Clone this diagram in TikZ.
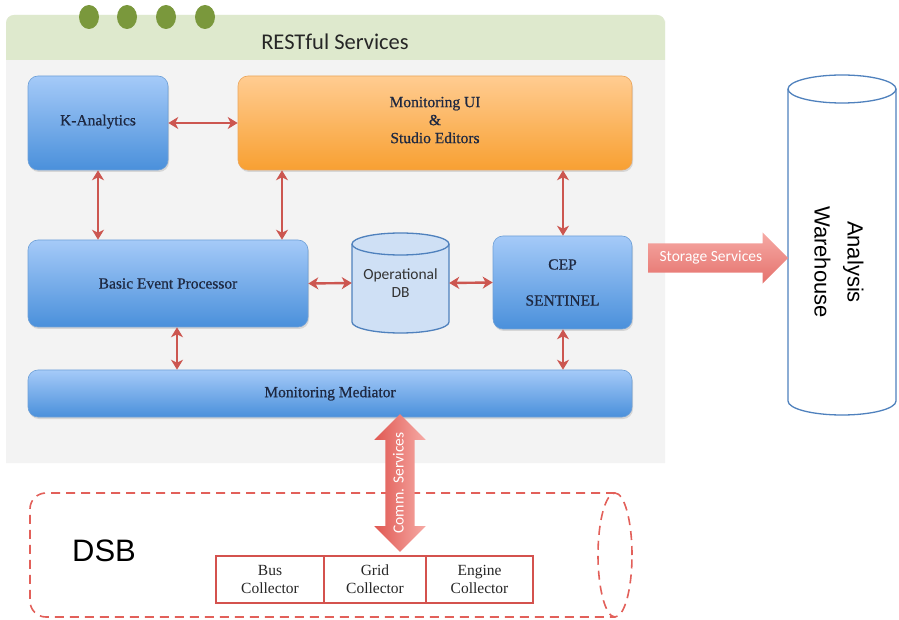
\documentclass[tikz,border=0pt]{standalone}
\usepackage{fontspec}
\setmainfont{Liberation Serif}
\newfontfamily\boxf[FakeBold=0.7]{Liberation Serif}
\newfontfamily\calib{Carlito}
\newfontfamily\arialf{Liberation Sans}
\usetikzlibrary{shapes.arrows,shadows,arrows.meta}
\definecolor{panelgray}{RGB}{243,243,243}
\definecolor{headgreen}{RGB}{222,233,205}
\definecolor{dotgreen}{RGB}{122,152,60}
\definecolor{bluetop}{RGB}{165,202,248}
\definecolor{bluebot}{RGB}{74,144,219}
\definecolor{blueedge}{RGB}{110,160,215}
\definecolor{orangetop}{RGB}{255,204,145}
\definecolor{orangebot}{RGB}{248,160,50}
\definecolor{orangeedge}{RGB}{235,165,90}
\definecolor{navytext}{RGB}{30,40,65}
\definecolor{arrred}{RGB}{204,86,80}
\definecolor{dashred}{RGB}{226,96,90}
\definecolor{collred}{RGB}{212,82,78}
\definecolor{dbfill}{RGB}{207,224,245}
\definecolor{dbedge}{RGB}{79,129,189}
\definecolor{blkltop}{RGB}{246,170,165}
\definecolor{blkbot}{RGB}{224,88,82}
\tikzset{
  bluebox/.style={rectangle, rounded corners=10pt, draw=blueedge, line width=0.6pt,
    top color=bluetop, bottom color=bluebot, text=navytext, font=\boxf\fontsize{15.5}{18}\selectfont,
    align=center, inner sep=0pt, drop shadow={opacity=0.25, shadow xshift=1pt, shadow yshift=-2pt}},
  orangebox/.style={bluebox, draw=orangeedge, top color=orangetop, bottom color=orangebot},
  dbl/.style={draw=arrred, line width=2.4pt, {Stealth[length=10pt,width=12pt,inset=3pt]}-{Stealth[length=10pt,width=12pt,inset=3pt]}},
  collbox/.style={rectangle, draw=collred, line width=1.3pt, fill=white, align=center,
    minimum height=47pt, inner sep=0pt, font=\fontsize{15.5}{18}\selectfont, text=black!85},
  cyl/.style={draw=dbedge, line width=1.3pt}
}
\begin{document}
\begin{tikzpicture}[x=1pt,y=1pt]
\useasboundingbox (0,0) rectangle (899,619);
% panel
\fill[panelgray] (6,156) -- (6,590) {[rounded corners=8pt] -- (6,604) -- (665,604) -- (665,590)} -- (665,156) -- cycle;
\fill[headgreen] (6,559) -- (6,590) {[rounded corners=8pt] -- (6,604) -- (665,604) -- (665,590)} -- (665,559) -- cycle;
\node[font=\calib\fontsize{22.5}{24}\selectfont, text=black!85] (rest) at (335,577) {RESTful Services};
\foreach \dx in {89,127,166,205} \fill[dotgreen] (\dx,602) ellipse (10 and 12);

% boxes
\node[bluebox, minimum width=140pt, minimum height=94pt, text depth=6pt] (ka) at (98,496) {K-Analytics};
\node[orangebox, minimum width=394pt, minimum height=94pt, text depth=6pt] (mui) at (435,496) {Monitoring UI\\\&\\Studio Editors};
\node[bluebox, minimum width=280pt, minimum height=87pt] (bep) at (168,335.5) {Basic Event Processor};
\node[bluebox, minimum width=139pt, minimum height=93pt] (cep) at (562.5,336.5) {CEP\\[18pt]SENTINEL};
\node[bluebox, minimum width=604pt, minimum height=47pt] (med) at (330,225.5) {Monitoring Mediator};

% operational DB cylinder
\fill[dbfill] (352,375) -- (352,297) arc (180:360:48.5 and 11) -- (449,375) arc (0:180:48.5 and 11) -- cycle;
\draw[cyl] (352,375) -- (352,297) arc (180:360:48.5 and 11) -- (449,375);
\draw[cyl] (400.5,375) ellipse (48.5 and 11);
\node[minimum width=97pt, minimum height=100pt, inner sep=0pt, align=center,
  font=\calib\fontsize{15.5}{18}\selectfont, text=black!80] (db) at (400.5,336) {Operational\\DB};

% connectors
\draw[dbl] (ka.east) -- (mui.west);
\draw[dbl] (ka.south) -- (ka.south |- bep.north);
\coordinate (m1) at ([xshift=-153pt]mui.south);
\draw[dbl] (m1) -- (m1 |- bep.north);
\coordinate (m2) at ([xshift=128pt]mui.south);
\draw[dbl] (m2) -- (m2 |- cep.north);
\draw[dbl] (bep.east) -- (db.west);
\draw[dbl] (db.east) -- (cep.west);
\coordinate (b1) at ([xshift=9pt]bep.south);
\draw[dbl] (b1) -- (b1 |- med.north);
\coordinate (c1) at ([xshift=0.5pt]cep.south);
\draw[dbl] (c1) -- (c1 |- med.north);

% analysis warehouse
\fill[white] (788,530) -- (788,218) arc (180:360:54 and 14) -- (896,530) arc (0:180:54 and 14) -- cycle;
\draw[cyl] (788,530) -- (788,218) arc (180:360:54 and 14) -- (896,530);
\draw[cyl] (842,530) ellipse (54 and 14);
\node[rotate=-90, align=center, font=\arialf\fontsize{22}{33}\selectfont, text=black] (aw) at (839,357) {Analysis\\Warehouse};

% storage services arrow
\node[single arrow, anchor=tail, single arrow head extend=11pt, minimum height=140pt,
  text height=10pt, text depth=3pt, inner ysep=8pt, inner xsep=4pt,
  top color=blkltop, bottom color=blkbot!85!white, draw=none,
  font=\calib\fontsize{15.5}{17}\selectfont, text=white] (stor) at (648,361) {Storage Services\hspace{4pt}};

% DSB
\draw[dashred, line width=1.6pt, dash pattern=on 9pt off 6pt, rounded corners=16pt] (615,126) -- (30,126) -- (30,2) -- (615,2);
\draw[dashred, line width=1.6pt, dash pattern=on 9pt off 6pt] (615,64) ellipse (17 and 62);
\node[font=\arialf\fontsize{31}{34}\selectfont, text=black] (dsb) at (104,68) {DSB};

\node[collbox, minimum width=108pt] (bus) at (270,39.5) {Bus\\Collector};
\node[collbox, minimum width=102pt] (grid) at (375,39.5) {Grid\\Collector};
\node[collbox, minimum width=107pt] (eng) at (479.5,39.5) {Engine\\Collector};

% comm services double arrow
\node[double arrow, rotate=90, double arrow head extend=11pt, minimum height=130pt,
  text height=10pt, text depth=3pt, inner ysep=8pt,
  left color=blkbot, right color=blkltop, draw=none,
  font=\calib\fontsize{15.5}{17}\selectfont, text=white] (comm) at (400,136) {Comm. Services};
\end{tikzpicture}
\end{document}
